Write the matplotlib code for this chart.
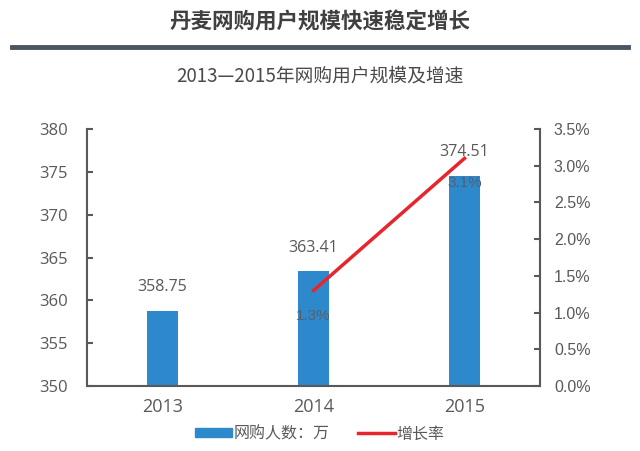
import matplotlib
matplotlib.use('Agg')
import matplotlib.pyplot as plt
from matplotlib.lines import Line2D
from matplotlib.patches import Patch
import numpy as np

plt.rcParams['font.family'] = ['Noto Sans CJK SC', 'DejaVu Sans']

years = ['2013', '2014', '2015']
users = [358.75, 363.41, 374.51]          # 网购人数：万
growth_years = ['2014', '2015']
growth = [1.3, 3.1]                        # 增长率 %
left_ticks = [350, 355, 360, 365, 370, 375, 380]
right_ticks = [0.0, 0.5, 1.0, 1.5, 2.0, 2.5, 3.0, 3.5]

text_c = '#595959'
axis_c = '#595959'
bar_c = '#2e89cc'
line_c = '#e8242c'
num_font = ['Open Sans', 'DejaVu Sans']
arial = ['Liberation Sans', 'DejaVu Sans']

fig = plt.figure(figsize=(6.4, 4.51), dpi=100)
ax = fig.add_axes([87 / 640, 1 - 386 / 451, (540 - 87) / 640, (386 - 129) / 451])
ax2 = ax.twinx()

x = np.arange(len(years))
ax.bar(x, users, width=0.2, color=bar_c, zorder=2)
for xi, v in zip(x, users):
    ax.annotate(f'{v:.2f}', (xi, v), xytext=(0, 17), textcoords='offset points',
                ha='center', va='center', fontsize=11.5, color=text_c, family=num_font)

gx = [years.index(y) for y in growth_years]
ax2.plot(gx, growth, color=line_c, lw=2.5, zorder=3)
for xi, g in zip(gx, growth):
    ax2.annotate(f'{g:.1f}%', (xi, g), xytext=(0, -18), textcoords='offset points',
                 ha='center', va='center', fontsize=11, color='#55606b', family=arial)

ax.set_xlim(-0.5, 2.5)
ax.set_ylim(350, 380)
ax2.set_ylim(0, 3.5)
ax.set_yticks(left_ticks)
ax2.set_yticks(right_ticks)
ax2.set_yticklabels([f'{t:.1f}%' for t in right_ticks], family=arial)
ax.set_yticklabels([str(t) for t in left_ticks], family=num_font)
ax.set_xticks(x)
ax.set_xticklabels(years, family=num_font)

for a in (ax, ax2):
    a.spines['top'].set_visible(False)
    for s in ('left', 'right', 'bottom'):
        a.spines[s].set_color(axis_c)
        a.spines[s].set_linewidth(1.5)
ax.spines['right'].set_visible(False)
ax2.spines['left'].set_visible(False)
ax2.spines['bottom'].set_visible(False)

ax.tick_params(axis='y', direction='in', length=4, width=1.5, color=axis_c,
               labelcolor=text_c, labelsize=12, pad=14)
ax2.tick_params(axis='y', direction='in', length=4, width=1.5, color=axis_c,
                labelcolor=text_c, labelsize=11.5, pad=10)
ax.tick_params(axis='x', length=0, labelcolor=text_c, labelsize=13, pad=9)

# titles
fig.text(0.5, 1 - 22 / 451, '丹麦网购用户规模快速稳定增长', ha='center', va='center',
         fontsize=15.5, fontweight='bold', style='italic', color='#404040')
fig.add_artist(Line2D([12 / 640, 628 / 640], [1 - 47 / 451, 1 - 47 / 451],
                      color='#4a5561', lw=3.5))
fig.text(0.5, 1 - 76 / 451, '2013—2015年网购用户规模及增速', ha='center', va='center',
         fontsize=13.5, color='#4a4a4a')

handles = [Patch(color=bar_c), Line2D([0], [0], color=line_c, lw=2.5)]
fig.legend(handles, ['网购人数：万', '增长率'], loc='center', bbox_to_anchor=(0.5, 1 - 434 / 451),
           ncol=2, frameon=False, fontsize=11.5, labelcolor=text_c, handlelength=2.3,
           handleheight=0.5, handletextpad=0.1, columnspacing=1.8)

fig.savefig('out.png', dpi=100)
